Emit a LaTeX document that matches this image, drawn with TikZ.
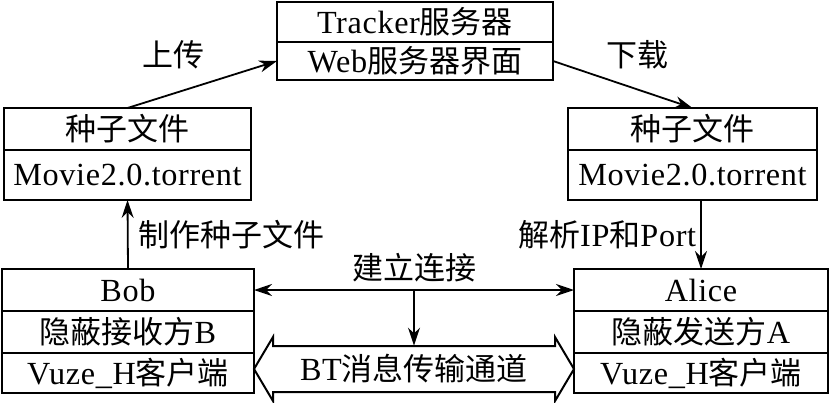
\documentclass[tikz,border=0pt]{standalone}
\usepackage{fontspec}
\setmainfont{Liberation Serif}[Scale=1.04,LetterSpace=2]
\newfontfamily\cjk{Noto Sans CJK SC}
\usetikzlibrary{positioning,arrows.meta,calc}

\tikzstyle{cell}=[draw, line width=1pt, inner sep=0pt, outer sep=0pt, font=\fontsize{15.5pt}{18pt}\selectfont]
\tikzstyle{lbl}=[inner sep=2pt, font=\fontsize{15.5pt}{18pt}\selectfont]
\tikzstyle{link}=[line width=0.9pt, -{Stealth[length=9pt,width=6pt]}]

\begin{document}
\begin{tikzpicture}[x=0.5pt,y=-0.5pt]
\useasboundingbox (0,0) rectangle (829,402);

% tracker
\node[cell, minimum width=138pt, minimum height=20pt] (tracker) at (415,22) {Tracker{\cjk 服务器}};
\node[cell, minimum width=138pt, minimum height=19pt, below=0pt of tracker] (web) {Web{\cjk 服务器界面}};

% seed files
\node[cell, minimum width=123.5pt, minimum height=21pt] (seedl) at (127.5,129) {\cjk 种子文件};
\node[cell, minimum width=123.5pt, minimum height=25pt, below=0pt of seedl] (filel) {Movie2.0.torrent};
\node[cell, minimum width=124.5pt, minimum height=21pt] (seedr) at (692.5,129) {\cjk 种子文件};
\node[cell, minimum width=124.5pt, minimum height=25pt, below=0pt of seedr] (filer) {Movie2.0.torrent};

% peers
\node[cell, minimum width=126pt, minimum height=21pt] (bob) at (128,290) {Bob};
\node[cell, minimum width=126pt, minimum height=21pt, below=0pt of bob] (bobrole) {{\cjk 隐蔽接收方}B};
\node[cell, minimum width=126pt, minimum height=20pt, below=0pt of bobrole] (bobcli) {Vuze\_H{\cjk 客户端}};
\node[cell, minimum width=127pt, minimum height=21pt] (alice) at (701,290) {Alice};
\node[cell, minimum width=127pt, minimum height=21pt, below=0pt of alice] (alicerole) {{\cjk 隐蔽发送方}A};
\node[cell, minimum width=127pt, minimum height=20pt, below=0pt of alicerole] (alicecli) {Vuze\_H{\cjk 客户端}};

% upload / download
\node[lbl] (up) at (173,55) {\cjk 上传};
\node[lbl] (down) at (637,55) {\cjk 下载};
\draw[link] (seedl.north) -- (web.west);
\draw[link] (web.east) -- (seedr.north);

\draw[link] (bob.north) -- node[lbl,right=3pt] {\cjk 制作种子文件} (filel.south);
\draw[link] (filer.south -| alice.north) -- node[lbl,left] {{\cjk 解析}IP{\cjk 和}Port} (alice.north);

% connection
\draw[line width=0.9pt, {Stealth[length=9pt,width=6pt]}-{Stealth[length=9pt,width=6pt]}] (bob.east) -- coordinate[midway] (mid) (alice.west);
\node[lbl, above=2pt of mid] (conn) {\cjk 建立连接};

% BT channel
\coordinate (btl) at ([yshift=2pt]bobcli.east);
\coordinate (btr) at ([yshift=2pt]alicecli.west);
\draw[line width=1pt] let \p1=(btl), \p2=(btr) in
  (\p1) -- (\x1+9.5pt,\y1+16pt) -- (\x1+9.5pt,\y1+11.5pt) -- (\x2-9.5pt,\y2+11.5pt)
  -- (\x2-9.5pt,\y2+16pt) -- (\p2) -- (\x2-9.5pt,\y2-16pt) -- (\x2-9.5pt,\y2-11.5pt)
  -- (\x1+9.5pt,\y1-11.5pt) -- (\x1+9.5pt,\y1-16pt) -- cycle;
\node[lbl, minimum height=23pt] (bt) at ($(btl)!0.5!(btr)$) {BT{\cjk 消息传输通道}};
\draw[link] (mid) -- (bt.north);
\end{tikzpicture}
\end{document}
